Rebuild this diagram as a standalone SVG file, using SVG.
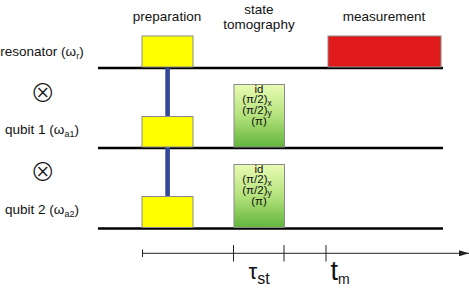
<svg xmlns="http://www.w3.org/2000/svg" width="469" height="290" viewBox="0 0 469 290">
<style>
text{font-family:"Liberation Sans",Arial,sans-serif;fill:#111}
.lbl{font-size:13.5px;text-anchor:middle}
.wire{stroke:#000;stroke-width:2.3;fill:none}
.prep{fill:#ffff00;stroke:#8a8a8a;stroke-width:1}
.meas{fill:#e01a1a;stroke:#8a8a8a;stroke-width:1}
.tomo{fill:url(#g);stroke:#8a8a8a;stroke-width:1}
.tt{font-size:11.5px;text-anchor:middle}
.axis{stroke:#222;stroke-width:1;fill:none}
.ox{font-family:"Noto Sans CJK KR","DejaVu Sans",sans-serif;font-size:25px;font-weight:300;text-anchor:middle}
</style>
<defs>
<linearGradient id="g" x1="0" y1="0" x2="0" y2="1">
<stop offset="0" stop-color="#e9fcb4"/>
<stop offset="0.5" stop-color="#b4e27c"/>
<stop offset="1" stop-color="#62b53c"/>
</linearGradient>
<marker id="arr" markerWidth="10" markerHeight="6" refX="10" refY="3" orient="auto" markerUnits="userSpaceOnUse">
<path d="M0,0 L10,3 L0,6 Z" fill="#222"/>
</marker>
</defs>
<g id="labels">
<text class="lbl" x="42" y="56">resonator (ω<tspan font-size="9" dy="3">r</tspan><tspan dy="-3">)</tspan></text>
<text class="ox" x="42.7" y="102.3">⊗</text>
<text class="lbl" x="42" y="134">qubit 1 (ω<tspan font-size="9" dy="3">a1</tspan><tspan dy="-3">)</tspan></text>
<text class="ox" x="42.7" y="181.3">⊗</text>
<text class="lbl" x="42" y="214">qubit 2 (ω<tspan font-size="9" dy="3">a2</tspan><tspan dy="-3">)</tspan></text>
<text class="lbl" x="167" y="20.5">preparation</text>
<text class="lbl" x="259" y="14">state</text>
<text class="lbl" x="259" y="29">tomography</text>
<text class="lbl" x="384" y="20.5">measurement</text>
</g>
<g id="connectors">
<line class="wire" x1="98" y1="68" x2="443" y2="68"/>
<line class="wire" x1="98" y1="148" x2="443" y2="148"/>
<line class="wire" x1="98" y1="228.5" x2="443" y2="228.5"/>
<rect x="165.3" y="68" width="4.6" height="160" fill="#34489a"/>
</g>
<g id="prep-resonator"><rect class="prep" x="142" y="36" width="51" height="31"/></g>
<g id="prep-qubit1"><rect class="prep" x="142" y="116.5" width="51" height="30.5"/></g>
<g id="prep-qubit2"><rect class="prep" x="142" y="196.5" width="51" height="31"/></g>
<g id="measurement"><rect class="meas" x="328" y="36" width="113" height="31"/></g>
<g id="tomo-qubit1">
<rect class="tomo" x="234" y="84.5" width="50.5" height="62.5"/>
<text class="tt" x="259" y="92.5">id</text>
<text class="tt" x="257" y="103">(π/2)<tspan font-size="8.5" dy="2.5">x</tspan></text>
<text class="tt" x="257" y="113.5">(π/2)<tspan font-size="8.5" dy="2.5">y</tspan></text>
<text class="tt" x="259" y="124.5">(π)</text>
</g>
<g id="tomo-qubit2">
<rect class="tomo" x="234" y="164.5" width="50.5" height="63"/>
<text class="tt" x="259" y="172.5">id</text>
<text class="tt" x="257" y="183">(π/2)<tspan font-size="8.5" dy="2.5">x</tspan></text>
<text class="tt" x="257" y="193.5">(π/2)<tspan font-size="8.5" dy="2.5">y</tspan></text>
<text class="tt" x="259" y="204.5">(π)</text>
</g>
<g id="timeline">
<line class="axis" x1="142" y1="253.3" x2="469" y2="253.3" marker-end="url(#arr)"/>
<line class="axis" x1="142.5" y1="249.5" x2="142.5" y2="257"/>
<line class="axis" x1="233.5" y1="245" x2="233.5" y2="261.5"/>
<line class="axis" x1="284" y1="245" x2="284" y2="261.5"/>
<line class="axis" x1="326" y1="245" x2="326" y2="261.5"/>
<text x="248.5" y="279" font-size="22">τ<tspan font-size="16" dy="5">st</tspan></text>
<text x="330.5" y="280" font-size="27">t<tspan font-size="14" dy="4">m</tspan></text>
</g>
</svg>
